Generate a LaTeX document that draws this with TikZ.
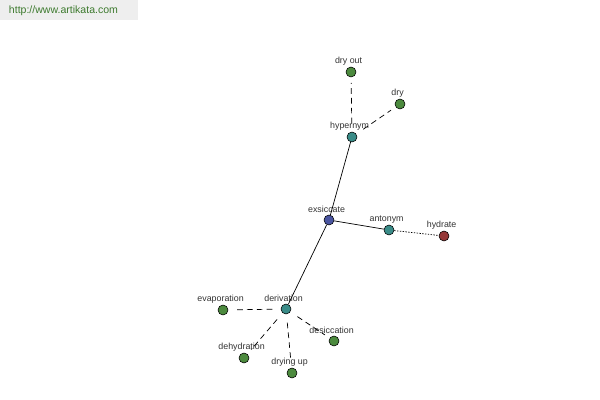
\documentclass[tikz,border=0pt]{standalone}
\usepackage{fontspec}
\setmainfont{Liberation Sans}
\usetikzlibrary{positioning}
\definecolor{TermBlue}{HTML}{4A55A0}
\definecolor{TermTeal}{HTML}{3A8C88}
\definecolor{TermGreen}{HTML}{4C8A3E}
\definecolor{TermRed}{HTML}{963838}
\definecolor{TermText}{HTML}{333333}
\definecolor{SiteGreen}{HTML}{3D7A2E}
\definecolor{SiteGrey}{HTML}{EEEEEE}
\tikzset{
  term/.style={circle,draw=black,line width=0.4pt,inner sep=0pt,
    minimum size=0.25cm,
    label={[text=TermText,font=\fontsize{6.3}{7}\selectfont,
      inner sep=1pt,xshift=-0.06cm]above:#1}},
  root/.style={term=#1,fill=TermBlue},
  relation/.style={term=#1,fill=TermTeal},
  leaf/.style={term=#1,fill=TermGreen},
  opposite/.style={term=#1,fill=TermRed},
  link/.style={line width=0.5pt},
  dashlink/.style={line width=0.5pt,dash pattern=on 4pt off 3pt,
    shorten <=6pt,shorten >=4pt},
  dotlink/.style={line width=0.5pt,dash pattern=on 1pt off 1pt}
}

\begin{document}
\begin{tikzpicture}[x=0.025cm,y=-0.025cm]

        \useasboundingbox (0,0) rectangle (600,400);

        \fill[SiteGrey] (0,0) rectangle (138,20);
        \node[anchor=west,text=SiteGreen,
          font=\fontsize{7.5}{9}\selectfont]
          (site) at (4,11) {http://www.artikata.com};

        \node[root=exsiccate] (exsiccate) at (329,220) {};
        \node[relation=hypernym] (hypernym) at (352,137) {};
        \node[relation=antonym] (antonym) at (389,230) {};
        \node[relation=derivation] (derivation) at (286,309) {};

        \node[leaf=dry out] (dryout) at (351,72) {};
        \node[leaf=dry] (dry) at (400,104) {};
        \node[opposite=hydrate] (hydrate) at (444,236) {};

        \node[leaf=evaporation] (evaporation) at (223,310) {};
        \node[leaf=desiccation] (desiccation) at (334,341) {};
        \node[leaf=dehydration] (dehydration) at (244,358) {};
        \node[leaf=drying up] (dryingup) at (292,373) {};

        \draw[link] (exsiccate) -- (hypernym);
        \draw[link] (exsiccate) -- (antonym);
        \draw[link] (exsiccate) -- (derivation);

        \draw[dashlink] (hypernym) -- (dryout);
        \draw[dashlink] (hypernym) -- (dry);

        \draw[dotlink] (antonym) -- (hydrate);

        \draw[dashlink] (derivation) -- (evaporation);
        \draw[dashlink] (derivation) -- (desiccation);
        \draw[dashlink] (derivation) -- (dehydration);
        \draw[dashlink] (derivation) -- (dryingup);

      \end{tikzpicture}
\end{document}
